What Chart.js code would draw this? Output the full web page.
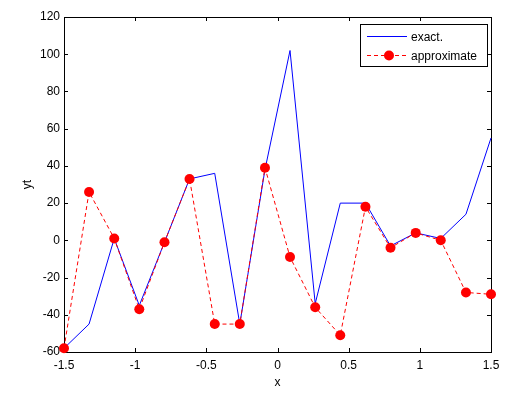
<!DOCTYPE html>
<html>
<head>
<meta charset="utf-8">
<script src="https://cdn.jsdelivr.net/npm/chart.js@4/dist/chart.umd.min.js"></script>
<style>
  html, body { margin: 0; padding: 0; background: #fff; }
  #wrap { width: 510px; height: 399px; }
</style>
</head>
<body>
<div id="wrap"><canvas id="plot" width="510" height="399"></canvas></div>
<script>
// ---- data ----
const xVals = [-1.5, -1.324, -1.147, -0.971, -0.794, -0.618, -0.441, -0.265, -0.088,
               0.088, 0.265, 0.441, 0.618, 0.794, 0.971, 1.147, 1.324, 1.5];
const exactVals = [-58, -45, 1, -35, -1, 33, 36, -45, 38,
                   102, -34, 20, 20, -3, 4, 1, 14, 55];
const approxVals = [-58, 26, 1, -37, -1, 33, -45, -45, 39,
                    -9, -36, -51, 18, -4, 4, 0, -28, -29];
const seriesNames = ['exact.', 'approximate'];
const xTicks = [-1.5, -1, -0.5, 0, 0.5, 1, 1.5];
const yTicks = [-60, -40, -20, 0, 20, 40, 60, 80, 100, 120];

const FONT = 'Liberation Sans';

function toPoints(vals) {
  return xVals.map((x, i) => ({ x: x, y: vals[i] }));
}

// axes box + inward ticks on all four sides (matlab look)
const framePlugin = {
  id: 'frame',
  beforeDatasetsDraw(chart) {
    const { ctx, chartArea: a, scales } = chart;
    ctx.save();
    ctx.strokeStyle = '#000';
    ctx.lineWidth = 1;
    ctx.strokeRect(Math.round(a.left) + 0.5, Math.round(a.top) + 0.5,
                   Math.round(a.right - a.left), Math.round(a.bottom - a.top));
    const len = 4;
    ctx.beginPath();
    xTicks.forEach(v => {
      const px = Math.round(scales.x.getPixelForValue(v)) + 0.5;
      ctx.moveTo(px, a.bottom); ctx.lineTo(px, a.bottom - len);
      ctx.moveTo(px, a.top); ctx.lineTo(px, a.top + len);
    });
    yTicks.forEach(v => {
      const py = Math.round(scales.y.getPixelForValue(v)) + 0.5;
      ctx.moveTo(a.left, py); ctx.lineTo(a.left + len, py);
      ctx.moveTo(a.right, py); ctx.lineTo(a.right - len, py);
    });
    ctx.stroke();
    ctx.restore();
  }
};

// legend box in the top right corner
const legendPlugin = {
  id: 'boxLegend',
  afterDraw(chart) {
    const { ctx, chartArea: a } = chart;
    const w = 127, h = 42;
    const x0 = Math.round(a.right) - 4 - w, y0 = Math.round(a.top) + 7;
    ctx.save();
    ctx.fillStyle = '#fff';
    ctx.fillRect(x0, y0, w, h);
    ctx.strokeStyle = '#000';
    ctx.lineWidth = 1;
    ctx.strokeRect(x0 + 0.5, y0 + 0.5, w, h);

    const rows = [y0 + 12.5, y0 + 31.5];
    ctx.font = '12px ' + FONT;
    ctx.textBaseline = 'middle';
    ctx.textAlign = 'left';
    chart.data.datasets.forEach((ds, i) => {
      const idx = ds.label === seriesNames[0] ? 0 : 1;
      const y = rows[idx];
      ctx.strokeStyle = ds.borderColor;
      ctx.lineWidth = 1;
      ctx.setLineDash(ds.borderDash || []);
      ctx.beginPath();
      ctx.moveTo(x0 + 7, y); ctx.lineTo(x0 + 47, y);
      ctx.stroke();
      ctx.setLineDash([]);
      if (ds.pointRadius > 0) {
        ctx.fillStyle = ds.pointBackgroundColor;
        ctx.beginPath();
        ctx.arc(x0 + 29, y, ds.pointRadius, 0, Math.PI * 2);
        ctx.fill();
      }
      ctx.fillStyle = '#000';
      ctx.fillText(ds.label, x0 + 51, y + 1);
    });
    ctx.restore();
  }
};

new Chart(document.getElementById('plot'), {
  type: 'line',
  data: {
    datasets: [
      {
        label: seriesNames[1],
        data: toPoints(approxVals),
        borderColor: '#ff0000',
        borderWidth: 1,
        borderDash: [4, 3],
        pointRadius: 5,
        pointBackgroundColor: '#ff0000',
        pointBorderColor: '#ff0000',
        pointBorderWidth: 0,
        tension: 0,
        clip: false,
        order: 0
      },
      {
        label: seriesNames[0],
        data: toPoints(exactVals),
        borderColor: '#0000ff',
        borderWidth: 1,
        pointRadius: 0,
        tension: 0,
        clip: false,
        order: 1
      }
    ]
  },
  options: {
    responsive: false,
    animation: false,
    devicePixelRatio: 1,
    layout: { padding: { top: 17, right: 19, left: 0, bottom: 0 } },
    plugins: {
      legend: { display: false },
      tooltip: { enabled: false }
    },
    scales: {
      x: {
        type: 'linear',
        min: -1.5,
        max: 1.5,
        afterFit(scale) { scale.height = 47; },
        afterBuildTicks(scale) { scale.ticks = xTicks.map(v => ({ value: v })); },
        grid: { display: false, drawTicks: false },
        border: { display: false },
        ticks: {
          color: '#000', font: { family: FONT, size: 12 }, padding: 6, maxRotation: 0,
          callback: v => String(v)
        },
        title: { display: true, text: 'x', color: '#000', font: { family: FONT, size: 12 }, padding: { top: 0, bottom: 9 } }
      },
      y: {
        type: 'linear',
        min: -60,
        max: 120,
        afterFit(scale) { scale.width = 64; },
        afterBuildTicks(scale) { scale.ticks = yTicks.map(v => ({ value: v })); },
        grid: { display: false, drawTicks: false },
        border: { display: false },
        ticks: { color: '#000', font: { family: FONT, size: 12 }, padding: 4, callback: v => String(v) },
        title: { display: true, text: 'yt', color: '#000', font: { family: FONT, size: 12 }, padding: { top: 20, bottom: 0 } }
      }
    }
  },
  plugins: [framePlugin, legendPlugin]
});
</script>
</body>
</html>
